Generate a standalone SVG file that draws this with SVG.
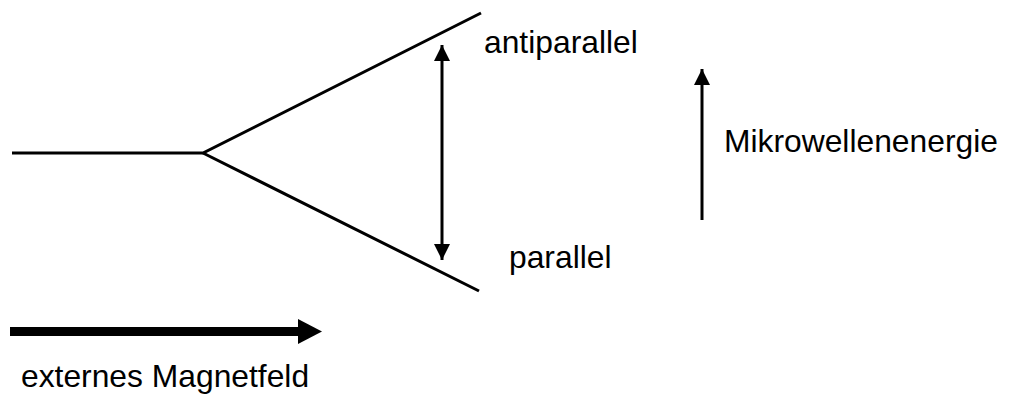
<svg xmlns="http://www.w3.org/2000/svg" width="1010" height="394" viewBox="0 0 1010 394">
<style>
.ln{stroke:#000;stroke-width:3;fill:none}
.lbl{font-family:"Liberation Sans",Arial,sans-serif;font-size:31.8px;fill:#000}
</style>
<defs>
<marker id="ah" viewBox="0 0 16 16" refX="16" refY="8" markerWidth="16" markerHeight="16" markerUnits="userSpaceOnUse" orient="auto-start-reverse">
<path d="M0,0 L16,8 L0,16 Z" fill="#000"/>
</marker>
</defs>
<rect width="1010" height="394" fill="#fff"/>
<g id="levels">
<polyline class="ln" points="12,153 203,153 481,13"/>
<line class="ln" x1="203" y1="153" x2="479" y2="291"/>
</g>
<g id="connectors">
<line class="ln" x1="442" y1="45" x2="442" y2="260" marker-start="url(#ah)" marker-end="url(#ah)"/>
<line class="ln" x1="702" y1="220" x2="702" y2="69" marker-end="url(#ah)"/>
<line stroke="#000" stroke-width="9" x1="10" y1="331.5" x2="299" y2="331.5"/>
<path d="M298,319 L322,331.5 L298,344 Z" fill="#000"/>
</g>
<g id="label-antiparallel"><text class="lbl" x="484" y="53">antiparallel</text></g>
<g id="label-parallel"><text class="lbl" x="509" y="268">parallel</text></g>
<g id="label-mikrowellen"><text class="lbl" x="724" y="152">Mikrowellenenergie</text></g>
<g id="label-magnetfeld"><text class="lbl" x="21" y="387">externes Magnetfeld</text></g>
</svg>
